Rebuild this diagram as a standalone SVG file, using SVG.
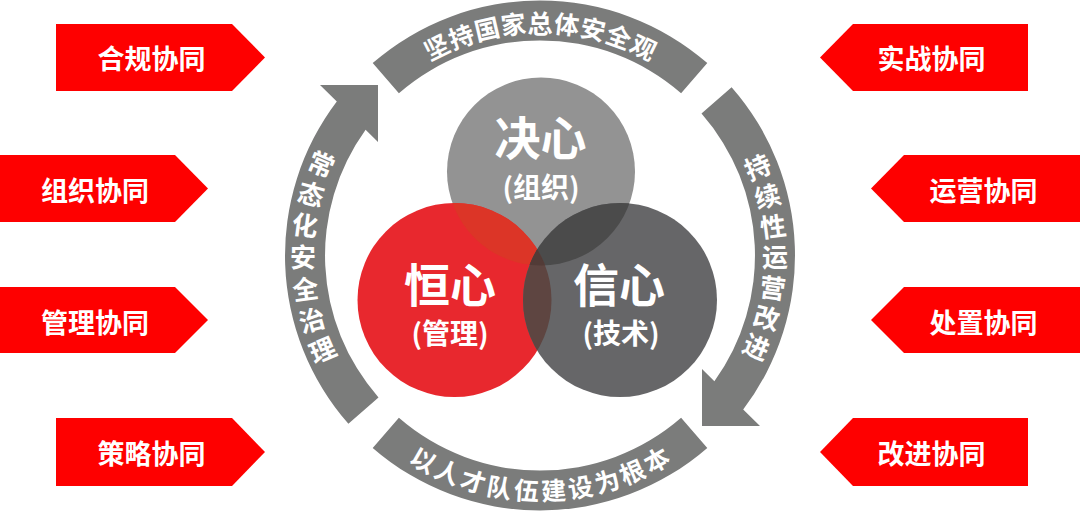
<svg xmlns="http://www.w3.org/2000/svg" width="1080" height="511" viewBox="0 0 1080 511">
<defs>
<style>
.ring{fill:#7b7c7b}
.tag{fill:#fe0000}
.tagt{fill:#fff;font-family:"Noto Sans CJK SC","Noto Sans",sans-serif;font-weight:700;font-size:27px;text-anchor:middle;dominant-baseline:central}
.rt{fill:#fff;font-family:"Noto Sans CJK SC","Noto Sans",sans-serif;font-weight:700;font-size:25px;text-anchor:middle;dominant-baseline:central}
.rs{font-size:26px}
.big{fill:#fff;font-family:"Noto Sans CJK SC","Noto Sans",sans-serif;font-weight:700;font-size:46px;text-anchor:middle;dominant-baseline:central}
.sub{fill:#fff;font-family:"Noto Sans CJK SC","Noto Sans",sans-serif;font-weight:700;font-size:28px;text-anchor:middle;dominant-baseline:central}
</style>
<clipPath id="cTop"><circle cx="541" cy="171.5" r="94"/></clipPath>
<clipPath id="cRed"><circle cx="454.5" cy="300" r="97"/></clipPath>
</defs>
<rect width="1080" height="511" fill="#fff"/>

<g id="connectors">
<path class="ring" d="M372.7,63.1 A255,255 0 0 1 707.3,63.1 L681.1,93.2 A215,215 0 0 0 398.9,93.2 Z"/>
<path class="ring" d="M707.3,447.9 A255,255 0 0 1 372.7,447.9 L398.9,417.8 A215,215 0 0 0 681.1,417.8 Z"/>
<path class="ring" d="M336.8,101.5 A255,255 0 0 0 348.4,423.8 L378.5,397.4 A215,215 0 0 1 365.6,129.8 L378,142 L378,85 L320,85 Z"/>
<path class="ring" d="M743.2,409.5 A255,255 0 0 0 731.6,87.2 L701.5,113.6 A215,215 0 0 1 714.4,381.2 L702,369 L702,426 L760,426 Z"/>
</g>

<g id="ring-top-text">
<text class="rt" transform="translate(436,45.9) rotate(-26.4)">坚</text>
<text class="rt" transform="translate(460.7,35.3) rotate(-19.8)">持</text>
<text class="rt" transform="translate(486.6,27.7) rotate(-13.2)">国</text>
<text class="rt" transform="translate(513.1,23) rotate(-6.6)">家</text>
<text class="rt" transform="translate(540,21.5)">总</text>
<text class="rt" transform="translate(566.9,23) rotate(6.6)">体</text>
<text class="rt" transform="translate(593.4,27.7) rotate(13.2)">安</text>
<text class="rt" transform="translate(619.3,35.3) rotate(19.8)">全</text>
<text class="rt" transform="translate(644,45.9) rotate(26.4)">观</text>
</g>

<g id="ring-bottom-text">
<text class="rt" transform="translate(424.1,458.8) rotate(29.7)">以</text>
<text class="rt" transform="translate(448.2,470.7) rotate(23.1)">人</text>
<text class="rt" transform="translate(473.5,479.9) rotate(16.5)">才</text>
<text class="rt" transform="translate(499.8,486) rotate(9.9)">队</text>
<text class="rt" transform="translate(526.5,489.1) rotate(3.3)">伍</text>
<text class="rt" transform="translate(553.5,489.1) rotate(-3.3)">建</text>
<text class="rt" transform="translate(580.2,486) rotate(-9.9)">设</text>
<text class="rt" transform="translate(606.5,479.9) rotate(-16.5)">为</text>
<text class="rt" transform="translate(631.8,470.7) rotate(-23.1)">根</text>
<text class="rt" transform="translate(655.9,458.8) rotate(-29.7)">本</text>
</g>

<g id="ring-left-text">
<text class="rt rs" transform="translate(322,162.5) rotate(23.1)">常</text>
<text class="rt rs" transform="translate(311.5,192.6) rotate(15.4)">态</text>
<text class="rt rs" transform="translate(305.1,223.7) rotate(7.7)">化</text>
<text class="rt rs" transform="translate(303,255.5)">安</text>
<text class="rt rs" transform="translate(305.1,287.3) rotate(-7.7)">全</text>
<text class="rt rs" transform="translate(311.5,318.4) rotate(-15.4)">治</text>
<text class="rt rs" transform="translate(322,348.5) rotate(-23.1)">理</text>
</g>

<g id="ring-right-text">
<text class="rt rs" transform="translate(757,165.6) rotate(-22.5)">持</text>
<text class="rt rs" transform="translate(767,194.7) rotate(-15)">续</text>
<text class="rt rs" transform="translate(773,224.8) rotate(-7.5)">性</text>
<text class="rt rs" transform="translate(775,255.5)">运</text>
<text class="rt rs" transform="translate(773,286.2) rotate(7.5)">营</text>
<text class="rt rs" transform="translate(767,316.3) rotate(15)">改</text>
<text class="rt rs" transform="translate(757,345.4) rotate(22.5)">进</text>
</g>

<g id="circles">
<circle cx="541" cy="171.5" r="94" fill="#939393"/>
<circle cx="454.5" cy="300" r="97" fill="#e8282e"/>
<circle cx="620" cy="300" r="97" fill="#666668"/>
<circle cx="454.5" cy="300" r="97" fill="#dc3527" clip-path="url(#cTop)"/>
<circle cx="620" cy="300" r="97" fill="#4b4b4b" clip-path="url(#cTop)"/>
<circle cx="620" cy="300" r="97" fill="#5e4541" clip-path="url(#cRed)"/>
<g clip-path="url(#cRed)"><circle cx="620" cy="300" r="97" fill="#523b37" clip-path="url(#cTop)"/></g>
</g>

<g id="node-juexin">
<text class="big" x="540.5" y="135">决心</text>
<text class="sub" x="541" y="186">(组织)</text>
</g>
<g id="node-hengxin">
<text class="big" x="450" y="282">恒心</text>
<text class="sub" x="450" y="332">(管理)</text>
</g>
<g id="node-xinxin">
<text class="big" x="619" y="282">信心</text>
<text class="sub" x="621" y="332">(技术)</text>
</g>

<g id="tag-hegui">
<polygon class="tag" points="56,24 232,24 265,57.5 232,91 56,91"/>
<text class="tagt" x="151.5" y="57.5">合规协同</text>
</g>
<g id="tag-zuzhi">
<polygon class="tag" points="0,155 175,155 208,188.5 175,222 0,222"/>
<text class="tagt" x="95" y="189">组织协同</text>
</g>
<g id="tag-guanli">
<polygon class="tag" points="0,287 175,287 208,320 175,353 0,353"/>
<text class="tagt" x="95" y="321">管理协同</text>
</g>
<g id="tag-celue">
<polygon class="tag" points="56,418 232,418 265,452 232,486 56,486"/>
<text class="tagt" x="151.5" y="452">策略协同</text>
</g>
<g id="tag-shizhan">
<polygon class="tag" points="1028,24 853,24 820,57.5 853,91 1028,91"/>
<text class="tagt" x="931.5" y="57.5">实战协同</text>
</g>
<g id="tag-yunying">
<polygon class="tag" points="1080,155 904,155 871,188.5 904,222 1080,222"/>
<text class="tagt" x="983.5" y="189">运营协同</text>
</g>
<g id="tag-chuzhi">
<polygon class="tag" points="1080,287 904,287 871,320 904,353 1080,353"/>
<text class="tagt" x="983.5" y="321">处置协同</text>
</g>
<g id="tag-gaijin">
<polygon class="tag" points="1028,418 853,418 820,452 853,486 1028,486"/>
<text class="tagt" x="931.5" y="452">改进协同</text>
</g>
</svg>
